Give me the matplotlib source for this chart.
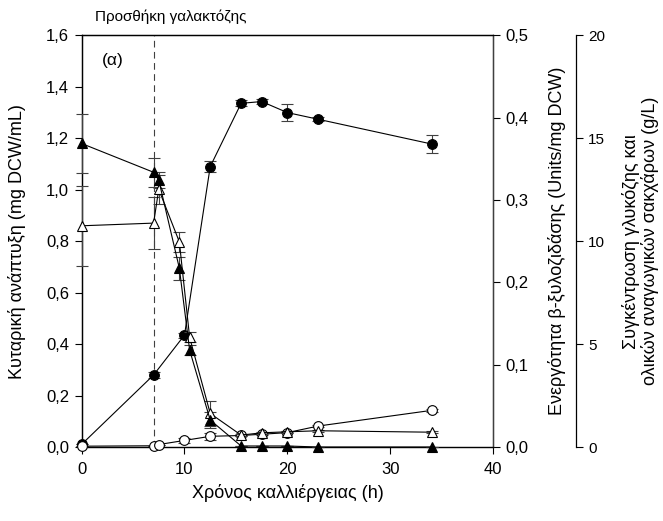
import matplotlib
matplotlib.use("Agg")
import matplotlib.pyplot as plt
from matplotlib.ticker import FuncFormatter, MultipleLocator

plt.rcParams['font.family'] = ['Liberation Sans', 'DejaVu Sans']

# κυτταρική ανάπτυξη (mg DCW/mL)
t_cells = [0, 7, 10, 12.5, 15.5, 17.5, 20, 23, 34]
cells = [0.01, 0.28, 0.435, 1.09, 1.336, 1.343, 1.30, 1.274, 1.178]
cells_err = [0, 0.01, 0.01, 0.022, 0.012, 0.008, 0.033, 0.008, 0.035]

# ενεργότητα β-ξυλοζιδάσης (Units/mg DCW)
t_act = [0, 7, 7.5, 10, 12.5, 15.5, 17.5, 20, 23, 34]
activity = [0.001, 0.0015, 0.003, 0.008, 0.013, 0.014, 0.0155, 0.0175, 0.0255, 0.0445]
activity_err = [0, 0, 0, 0.003, 0.004, 0.001, 0.001, 0.001, 0.001, 0.002]

# γλυκόζη και ολικά αναγωγικά σάκχαρα (g/L)
t_sug = [0, 7, 7.5, 9.5, 10.5, 12.5, 15.5, 17.5, 20, 23, 34]
glucose = [14.75, 13.35, 12.97, 8.69, 4.71, 1.31, 0.05, 0.05, 0.05, 0.0, 0.0]
glucose_err = [1.45, 0.7, 0.4, 0.55, 0.25, 0.4, 0, 0, 0, 0, 0]
reducing = [10.75, 10.88, 12.52, 9.97, 5.33, 1.63, 0.58, 0.69, 0.74, 0.79, 0.72]
reducing_err = [1.94, 1.25, 0.7, 0.5, 0.25, 0.63, 0.06, 0.06, 0.06, 0.06, 0.06]

comma = FuncFormatter(lambda v, p: f"{v:.1f}".replace('.', ','))

fig = plt.figure(figsize=(6.63, 5.21), dpi=100)
ax = fig.add_axes([0.123, 0.142, 0.621, 0.790])
ax2 = ax.twinx()
ax3 = ax.twinx()

ecol = '#404040'
mk = dict(markersize=7, linewidth=0.8, color='black', ecolor=ecol,
          elinewidth=0.8, capsize=4, capthick=0.8, markeredgecolor='black',
          markeredgewidth=0.8)

conts = [
    ax.errorbar(t_cells, cells, yerr=cells_err, marker='o', markerfacecolor='black', zorder=3, **mk),
    ax2.errorbar(t_act, activity, yerr=activity_err, marker='o', markerfacecolor='white', zorder=3, **mk),
    ax3.errorbar(t_sug, reducing, yerr=reducing_err, marker='^', markerfacecolor='white', zorder=4, **mk),
    ax3.errorbar(t_sug, glucose, yerr=glucose_err, marker='^', markerfacecolor='black', zorder=4, **mk),
]
for c in conts:
    for art in c.get_children():
        art.set_clip_on(False)

ax.axvline(7, color=ecol, linestyle=(0, (6, 4)), linewidth=0.8, zorder=1)

ax.set_xlim(0, 40)
ax.set_ylim(0, 1.6)
ax2.set_ylim(0, 0.5)
ax3.set_ylim(0, 20)
ax.xaxis.set_major_locator(MultipleLocator(10))
ax.yaxis.set_major_locator(MultipleLocator(0.2))
ax2.yaxis.set_major_locator(MultipleLocator(0.1))
ax3.yaxis.set_major_locator(MultipleLocator(5))
ax.yaxis.set_major_formatter(comma)
ax2.yaxis.set_major_formatter(comma)

for a in (ax, ax2, ax3):
    a.tick_params(direction='out', length=5, width=0.8, labelsize=12, pad=4)
    for s in a.spines.values():
        s.set_linewidth(0.9)
ax.tick_params(axis='x', pad=6)
ax2.spines['right'].set_color(ecol)
ax.spines['bottom'].set_color(ecol)
ax3.spines['right'].set_position(('axes', 1.2))
for s in ('top', 'bottom', 'left'):
    ax3.spines[s].set_visible(False)
ax3.tick_params(labelsize=11)

ax.text(-0.157, 0.5, 'Κυταρική ανάπτυξη (mg DCW/mL)', transform=ax.transAxes,
        rotation=90, ha='center', va='center', fontsize=13)
ax.text(1.155, 0.5, 'Ενεργότητα β-ξυλοζιδάσης (Units/mg DCW)', transform=ax.transAxes,
        rotation=90, ha='center', va='center', fontsize=13)
ax.text(1.357, 0.5, 'Συγκέντρωση γλυκόζης και\nολικών αναγωγικών σακχάρων (g/L)',
        transform=ax.transAxes, rotation=90, ha='center', va='center', fontsize=13,
        linespacing=1.1)
ax.text(0.5, -0.112, 'Χρόνος καλλιέργειας (h)', transform=ax.transAxes,
        ha='center', va='center', fontsize=13)
ax.text(0.05, 0.938, '(α)', transform=ax.transAxes, ha='left', va='center', fontsize=12.5)
fig.text(95 / 663, 1 - 17 / 521, 'Προσθήκη γαλακτόζης', ha='left', va='center', fontsize=11)

fig.savefig('out.png', dpi=100)
